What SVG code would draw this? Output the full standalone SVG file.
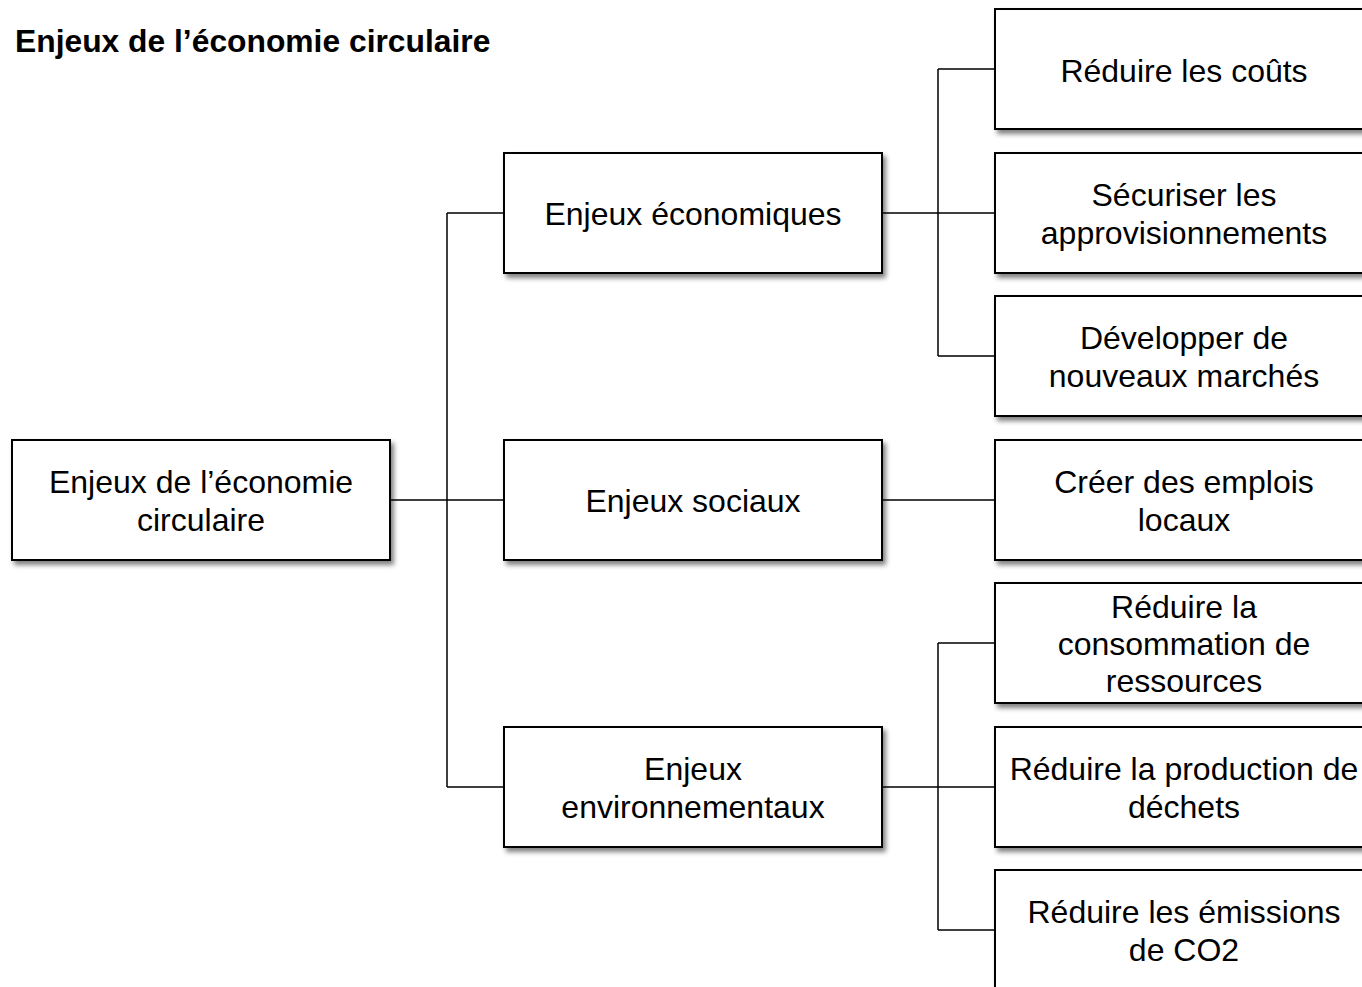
<svg xmlns="http://www.w3.org/2000/svg" width="1362" height="987" viewBox="0 0 1362 987">
<defs>
<filter id="sh" x="-10%" y="-10%" width="130%" height="130%">
<feGaussianBlur in="SourceAlpha" stdDeviation="2.5"/>
<feOffset dx="3" dy="4" result="b"/>
<feComponentTransfer><feFuncA type="linear" slope="0.5"/></feComponentTransfer>
<feMerge><feMergeNode/><feMergeNode in="SourceGraphic"/></feMerge>
</filter>
</defs>
<style>
.box{fill:#fff;stroke:#000;stroke-width:2;filter:url(#sh)}
.t{font-family:"Liberation Sans",Arial,sans-serif;font-size:32px;fill:#000;text-anchor:middle}
.title{font-family:"Liberation Sans",Arial,sans-serif;font-size:31.8px;font-weight:bold;fill:#000}
.c{fill:none;stroke:#000;stroke-width:1.5}
</style>
<rect width="1362" height="987" fill="#fff"/>
<text class="title" x="15" y="52">Enjeux de l’économie circulaire</text>
<g id="connectors">
<path class="c" d="M390,500H447M447,213V787M447,213H504M447,500H504M447,787H504"/>
<path class="c" d="M882,213H938M938,69V356M938,69H995M938,213H995M938,356H995"/>
<path class="c" d="M882,500H995"/>
<path class="c" d="M882,787H938M938,643V930M938,643H995M938,787H995M938,930H995"/>
</g>
<g id="root"><rect class="box" x="12" y="440" width="378" height="120"/><text class="t" x="201" y="493">Enjeux de l’économie</text><text class="t" x="201" y="531">circulaire</text></g>
<g id="eco"><rect class="box" x="504" y="153" width="378" height="120"/><text class="t" x="693" y="225">Enjeux économiques</text></g>
<g id="soc"><rect class="box" x="504" y="440" width="378" height="120"/><text class="t" x="693" y="512">Enjeux sociaux</text></g>
<g id="env"><rect class="box" x="504" y="727" width="378" height="120"/><text class="t" x="693" y="780">Enjeux</text><text class="t" x="693" y="818">environnementaux</text></g>
<g id="l1"><rect class="box" x="995" y="9" width="378" height="120"/><text class="t" x="1184" y="82">Réduire les coûts</text></g>
<g id="l2"><rect class="box" x="995" y="153" width="378" height="120"/><text class="t" x="1184" y="206">Sécuriser les</text><text class="t" x="1184" y="244">approvisionnements</text></g>
<g id="l3"><rect class="box" x="995" y="296" width="378" height="120"/><text class="t" x="1184" y="349">Développer de</text><text class="t" x="1184" y="387">nouveaux marchés</text></g>
<g id="l4"><rect class="box" x="995" y="440" width="378" height="120"/><text class="t" x="1184" y="493">Créer des emplois</text><text class="t" x="1184" y="531">locaux</text></g>
<g id="l5"><rect class="box" x="995" y="583" width="378" height="120"/><text class="t" x="1184" y="618">Réduire la</text><text class="t" x="1184" y="655">consommation de</text><text class="t" x="1184" y="692">ressources</text></g>
<g id="l6"><rect class="box" x="995" y="727" width="378" height="120"/><text class="t" x="1184" y="780">Réduire la production de</text><text class="t" x="1184" y="818">déchets</text></g>
<g id="l7"><rect class="box" x="995" y="870" width="378" height="120"/><text class="t" x="1184" y="923">Réduire les émissions</text><text class="t" x="1184" y="961">de CO2</text></g>
</svg>
